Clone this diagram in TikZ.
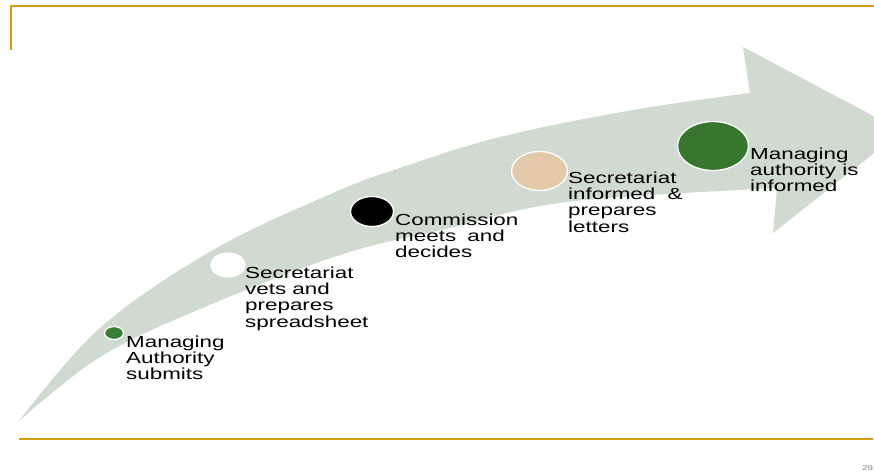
\documentclass[tikz,border=0pt]{standalone}
\usepackage{fontspec}
\usetikzlibrary{shapes.geometric}
\newfontfamily\lbl[FakeStretch=1.4]{Liberation Sans}
\definecolor{gold}{HTML}{D0A010}
\definecolor{arrowgray}{HTML}{D0DAD0}
\definecolor{dotgreen}{HTML}{3A7D34}
\definecolor{darkgreen}{HTML}{38762F}
\definecolor{beige}{HTML}{E2C9A9}
\tikzset{
  dot/.style={ellipse, draw=white, line width=1.3pt, inner sep=0pt},
  lab/.style={anchor=north west, inner sep=0pt, align=left, text=black,
    font=\lbl\fontsize{16}{16.3}\selectfont},
}
\begin{document}
\begin{tikzpicture}[x=1pt,y=-1pt]
\useasboundingbox (0,0) rectangle (874,474);
\clip (0,0) rectangle (874,474);
% frame lines
\draw[gold, line width=1.5pt] (10,6) -- (874,6);
\draw[gold, line width=2pt] (11,5.5) -- (11,50);
\draw[gold, line width=2pt] (19,439) -- (873,439);
% arrow
\fill[arrowgray] plot[smooth, tension=0.6] coordinates {(19,421) (100,328) (213,250) (333,193) (400,168) (500,137) (633,110) (750,93)}
  -- (743,47) -- (902,131) -- (773,233) -- (777,188)
  -- plot[smooth, tension=0.6] coordinates {(777,188) (567,202) (450,228) (340,255) (200,309) (100,357) (19,421)} -- cycle;
% dots
\node[dot, fill=dotgreen, minimum width=19pt, minimum height=13pt] (d1) at (114,333) {};
\node[dot, fill=white, minimum width=34pt, minimum height=24pt] (d2) at (228,265) {};
\node[dot, fill=black, minimum width=43pt, minimum height=30pt] (d3) at (372,211.5) {};
\node[dot, fill=beige, minimum width=56pt, minimum height=39pt] (d4) at (539.5,171) {};
\node[dot, fill=darkgreen, minimum width=71pt, minimum height=49pt] (d5) at (713,146) {};
% labels
\node[lab] (t1) at (126,335.5) {Managing\\Authority\\submits};
\node[lab] (t2) at (245,266.5) {Secretariat\\vets and\\prepares\\spreadsheet};
\node[lab] (t3) at (395,213.5) {Commission\\meets\hspace{5pt} and\\decides};
\node[lab] (t4) at (568,171.5) {Secretariat\\informed\hspace{6pt} \&\\prepares\\letters};
\node[lab] (t5) at (750,147.5) {Managing\\authority is\\informed};
% page number
\node[anchor=base west, inner sep=0pt, text=gray, font=\lbl\fontsize{7}{8}\selectfont] (pg) at (862,470) {29};
\end{tikzpicture}
\end{document}
